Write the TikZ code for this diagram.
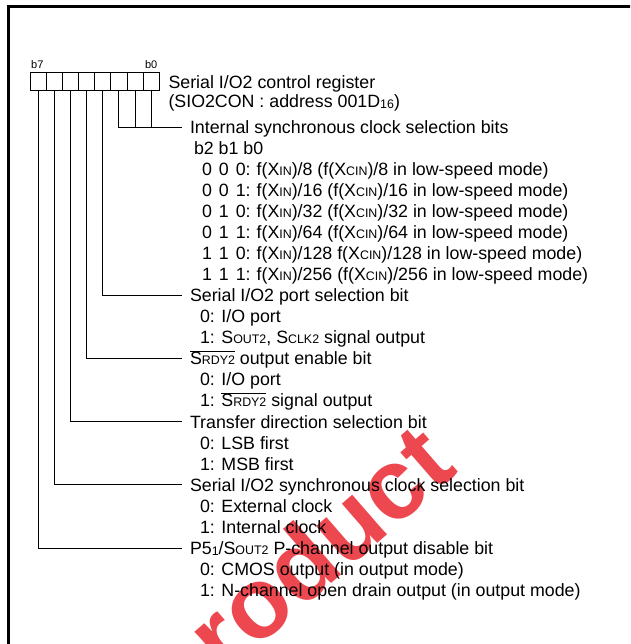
\documentclass[tikz,border=0pt]{standalone}
\usepackage{fontspec}
\setmainfont{Liberation Sans}
\newcommand\smc[1]{{\fontsize{12.4pt}{12pt}\selectfont #1}}
\newcommand\lowsub[1]{\raisebox{-1.2pt}{\fontsize{12.4pt}{12pt}\selectfont #1}}
\newcommand\ovl[1]{$\overline{\mbox{#1}}$}
\definecolor{wmred}{RGB}{232,20,30}
\begin{document}
\begin{tikzpicture}[x=1pt,y=-1pt,
  cell/.style={draw, line width=0.8pt, minimum width=16.16pt, minimum height=18pt, inner sep=0pt, outer sep=0pt},
  item/.style={anchor=west, inner sep=0pt, outer sep=0pt, text height=12.6pt, text depth=0pt, font=\fontsize{17.8pt}{21pt}\selectfont},
  bitlab/.style={inner sep=0pt, font=\fontsize{11pt}{12pt}\selectfont},
  lead/.style={line width=0.8pt}]
\useasboundingbox (0,0) rectangle (630,644);
\begin{scope}
  \clip (0,0) rectangle (630,644);
  \node[rotate=41, anchor=base, inner sep=0pt, font=\fontsize{100pt}{100pt}\selectfont\bfseries, text=wmred, opacity=0.78] (wm) at (319,594) {product};
  \draw[line width=3pt] (8.7,6.5) rectangle (700,720);
\end{scope}
% register cells
\foreach \k/\n in {0/7,1/6,2/5,3/4,4/3,5/2,6/1,7/0}
  \node[cell] (b\n) at ({30+16.16*(\k+0.5)},81) {};
\node[bitlab, anchor=base west] (lb7) at (31,69) {b7};
\node[bitlab, anchor=base east] (lb0) at (157.5,69) {b0};
% title
\node[item] (title1) at (168.5,82) {Serial I/O2 control register};
\node[item] (title2) at (168.5,101) {(SIO2CON : address 001D\lowsub{16})};
% b2-b0
\node[item] (hInt) at (190,127) {Internal synchronous clock selection bits};
\node[item] (r1) at (194,148.05) {b2 b1 b0};
\node[item] (r2) at (202,169.1) {0\hspace{7pt}0\hspace{7pt}0:\hspace{6pt}f(X\smc{IN})/8 (f(X\smc{CIN})/8 in low-speed mode)};
\node[item] (r3) at (202,190.15) {0\hspace{7pt}0\hspace{7pt}1:\hspace{6pt}f(X\smc{IN})/16 (f(X\smc{CIN})/16 in low-speed mode)};
\node[item] (r4) at (202,211.2) {0\hspace{7pt}1\hspace{7pt}0:\hspace{6pt}f(X\smc{IN})/32 (f(X\smc{CIN})/32 in low-speed mode)};
\node[item] (r5) at (202,232.25) {0\hspace{7pt}1\hspace{7pt}1:\hspace{6pt}f(X\smc{IN})/64 (f(X\smc{CIN})/64 in low-speed mode)};
\node[item] (r6) at (202,253.3) {1\hspace{7pt}1\hspace{7pt}0:\hspace{6pt}f(X\smc{IN})/128 f(X\smc{CIN})/128 in low-speed mode)};
\node[item] (r7) at (202,274.35) {1\hspace{7pt}1\hspace{7pt}1:\hspace{6pt}f(X\smc{IN})/256 (f(X\smc{CIN})/256 in low-speed mode)};
% b3
\node[item] (hPort) at (190,295.4) {Serial I/O2 port selection bit};
\node[item] (r9) at (200,316.45) {0: I/O port};
\node[item] (r10) at (200,337.5) {1: S\smc{OUT2}, S\smc{CLK2} signal output};
% b4
\node[item] (hRdy) at (190,358.55) {\ovl{S\smc{RDY2}} output enable bit};
\node[item] (r12) at (200,379.6) {0: I/O port};
\node[item] (r13) at (200,400.65) {1: \ovl{S\smc{RDY2}} signal output};
% b5
\node[item] (hDir) at (190,421.7) {Transfer direction selection bit};
\node[item] (r15) at (200,442.75) {0: LSB first};
\node[item] (r16) at (200,463.8) {1: MSB first};
% b6
\node[item] (hClk) at (190,484.85) {Serial I/O2 synchronous clock selection bit};
\node[item] (r18) at (200,505.9) {0: External clock};
\node[item] (r19) at (200,526.95) {1: Internal clock};
% b7
\node[item] (hP) at (190,548) {P5\lowsub{1}/S\smc{OUT2} P-channel output disable bit};
\node[item] (r21) at (200,569.05) {0: CMOS output (in output mode)};
\node[item] (r22) at (200,590.1) {1: N-channel open drain output (in output mode)};
% leader lines
\draw[lead] (b2.south) |- ([xshift=-8.3pt]hInt.west);
\draw[lead] (b1.south) -- (b1.south |- hInt.west);
\draw[lead] (b0.south) -- (b0.south |- hInt.west);
\draw[lead] (b3.south) |- ([xshift=-8.3pt]hPort.west);
\draw[lead] (b4.south) |- ([xshift=-8.3pt]hRdy.west);
\draw[lead] (b5.south) |- ([xshift=-8.3pt]hDir.west);
\draw[lead] (b6.south) |- ([xshift=-8.3pt]hClk.west);
\draw[lead] (b7.south) |- ([xshift=-8.3pt]hP.west);
\end{tikzpicture}
\end{document}
